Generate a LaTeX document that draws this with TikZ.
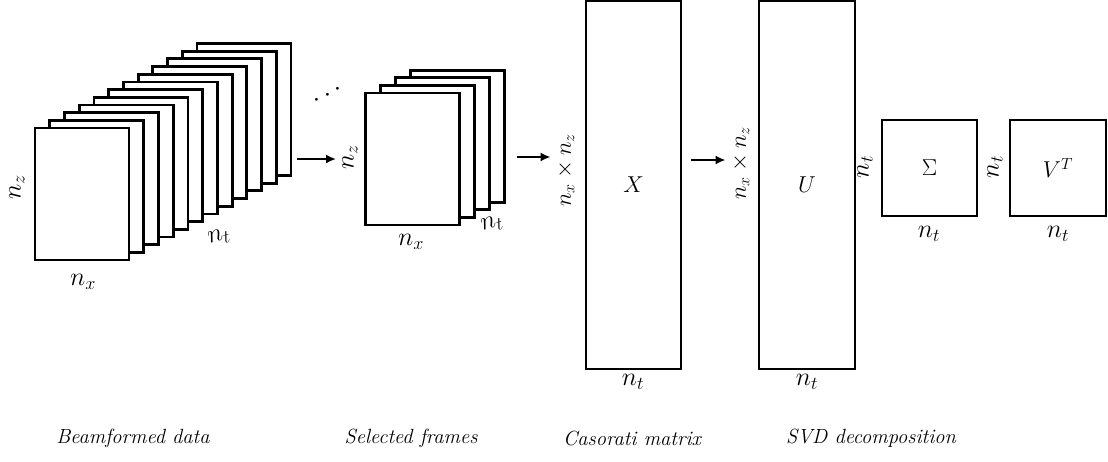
\RequirePackage{fix-cm}
\documentclass[tikz,border=0pt]{standalone}
\usepackage{amsmath}
\usepackage{fontspec}
\usepackage{tikz}
\usetikzlibrary{arrows.meta, positioning, calc}
\tikzset{
  frame/.style={draw, fill=white, line width=2.8pt, minimum width=94pt, minimum height=132pt, inner sep=0pt},
  mat/.style={draw, fill=white, line width=2.8pt, inner sep=0pt, font=\fontsize{23}{27}\selectfont},
  lbl/.style={inner sep=1pt, font=\fontsize{26}{30}\selectfont},
  dimlbl/.style={inner sep=1pt, font=\fontsize{23}{27}\selectfont},
  capt/.style={inner sep=1pt, font=\fontsize{20.5}{24}\selectfont\itshape},
  arr/.style={-{Latex[length=10pt,width=9pt]}, line width=2.6pt},
}

\begin{document}
\begin{tikzpicture}[x=1pt, y=-1pt]
    \useasboundingbox (0,0) rectangle (1108,461);
    % beamformed data
    \foreach \i in {11,...,0}
        \node[frame] (bf\i) at ({82+14.73*\i}, {194-7.68*\i}) {};
    \node[lbl, rotate=90] (bfz) at (17,187) {$n_z$};
    \node[lbl] (bfx) at (83,282) {$n_x$};
    \node[lbl, rotate=15] (bft) at (219,237) {$n_t$};
    \node[lbl, rotate=26, font=\fontsize{27}{30}\selectfont] (dots) at (330,94) {$\cdots$};
    % selected frames
    \foreach \i in {3,...,0}
        \node[frame] (sf\i) at ({412.5+15*\i}, {159-7.6*\i}) {};
    \node[lbl, rotate=90] (sfz) at (350,157) {$n_z$};
    \node[lbl] (sfx) at (411,242) {$n_x$};
    \node[lbl, rotate=15] (sft) at (492,224) {$n_t$};
    % casorati matrix
    \node[mat, minimum width=95pt, minimum height=368pt] (X) at (633.5,185) {$X$};
    \node[dimlbl, rotate=90] (Xl) at (566,170) {$n_x\times n_z$};
    \node[lbl] (Xb) at (633,382) {$n_t$};
    % svd
    \node[mat, minimum width=96pt, minimum height=368pt] (U) at (807,185) {$U$};
    \node[dimlbl, rotate=90] (Ul) at (741,163) {$n_x\times n_z$};
    \node[lbl] (Ub) at (807,382) {$n_t$};
    \node[mat, minimum width=95pt, minimum height=96pt] (S) at (929.5,168) {$\Sigma$};
    \node[lbl, rotate=90] (Sl) at (865,167) {$n_t$};
    \node[lbl] (Sb) at (929,234) {$n_t$};
    \node[mat, minimum width=96pt, minimum height=96pt] (V) at (1058,168) {$V^T$};
    \node[lbl, rotate=90] (Vl) at (995,167) {$n_t$};
    \node[lbl] (Vb) at (1058,234) {$n_t$};
    % arrows
    \draw[arr] ($(bf11.east |- sf0.center)+(5,0)$) -- ($(sf0.west)+(-28,0)$);
    \draw[arr] ($(sf3.east |- sf0.center)+(11,-2)$) -- ($(X.west |- sf0.center)+(-34,-2)$);
    \draw[arr] ($(X.east |- sf0.center)+(9,1)$) -- ($(U.west |- sf0.center)+(-32,1)$);
    % captions
    \node[capt] (c1) at (133,438) {Beamformed data};
    \node[capt] (c2) at (411,438) {Selected frames};
    \node[capt] (c3) at (632,438) {Casorati matrix};
    \node[capt] (c4) at (871,438) {SVD decomposition};
\end{tikzpicture}
\end{document}
